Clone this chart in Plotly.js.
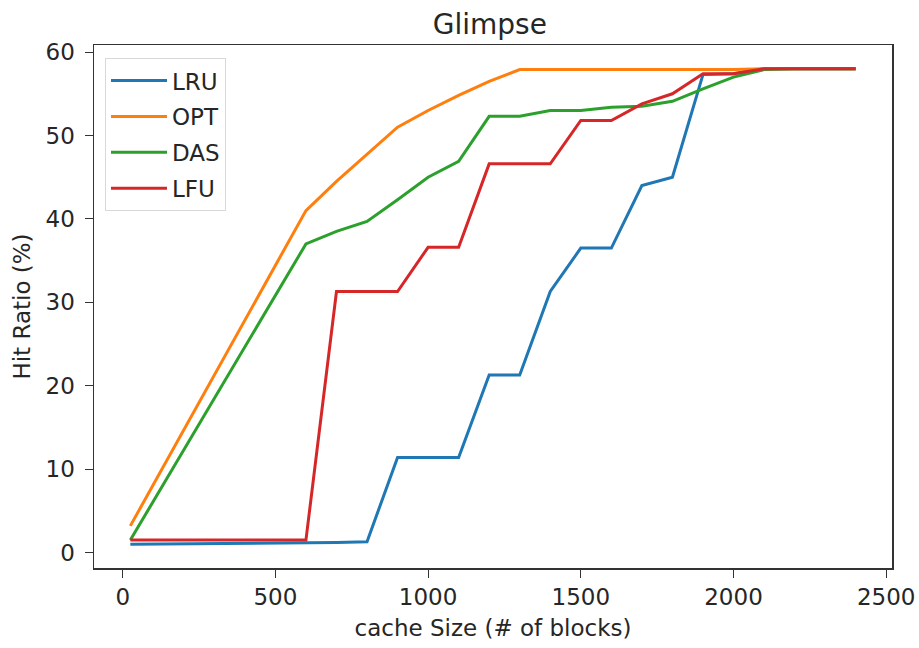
<!DOCTYPE html>
<html>
<head>
<meta charset="utf-8">
<script src="https://cdn.plot.ly/plotly-3.0.1.min.js"></script>
<style>html,body{margin:0;padding:0;background:#fff;}#chart{width:919px;height:648px;}</style>
</head>
<body>
<div id="chart"></div>
<script>
const cacheSize = [25, 600, 700, 800, 900, 1000, 1100, 1200, 1300, 1400, 1500, 1600, 1700, 1800, 1900, 2000, 2100, 2200, 2300, 2400];
const lru = [1.0, 1.1, 1.2, 1.3, 11.4, 11.4, 11.4, 21.3, 21.3, 31.3, 36.5, 36.5, 44.0, 45.0, 57.3, 57.4, 58.0, 58.0, 58.0, 58.0];
const opt = [3.2, 41.0, 44.5, 47.8, 51.0, 53.0, 54.8, 56.5, 57.9, 57.9, 57.9, 57.9, 57.9, 57.9, 57.9, 57.9, 58.0, 58.0, 58.0, 58.0];
const das = [1.5, 37.0, 38.5, 39.7, 42.3, 45.0, 46.9, 52.3, 52.3, 53.0, 53.0, 53.4, 53.5, 54.1, 55.6, 57.0, 57.9, 58.0, 58.0, 58.0];
const lfu = [1.5, 1.5, 31.3, 31.3, 31.3, 36.6, 36.6, 46.6, 46.6, 46.6, 51.8, 51.8, 53.8, 55.0, 57.4, 57.4, 58.0, 58.0, 58.0, 58.0];
const seriesNames = ['LRU', 'OPT', 'DAS', 'LFU'];
const seriesData = [lru, opt, das, lfu];
const colors = ['#1f77b4', '#ff7f0e', '#2ca02c', '#d62728'];

const FONT = 'DejaVu Sans, sans-serif';
const traces = seriesNames.map((n, i) => ({
  x: cacheSize, y: seriesData[i], name: n, type: 'scatter', mode: 'lines',
  legendgroup: n,
  line: {color: colors[i], width: 3}
}));

const layout = {
  width: 919, height: 648,
  margin: {l: 94, r: 27, t: 45, b: 80},
  paper_bgcolor: '#fff', plot_bgcolor: '#fff',
  font: {family: FONT, size: 23, color: '#262626'},
  title: {text: 'Glimpse', x: 0.533, xanchor: 'center', y: 0.962, yanchor: 'middle', font: {size: 28, family: FONT, color: '#262626'}},
  xaxis: {
    range: [-94, 2519], tickvals: [0, 500, 1000, 1500, 2000, 2500],
    showgrid: false, zeroline: false, showline: true, mirror: true, linecolor: '#333', linewidth: 1.5,
    ticks: 'outside', ticklen: 8, tickcolor: '#333', tickfont: {size: 23},
    title: {text: 'cache Size (# of blocks)', font: {size: 23, family: FONT}, standoff: 11}
  },
  yaxis: {
    range: [-1.85, 60.85], tickvals: [0, 10, 20, 30, 40, 50, 60],
    showgrid: false, zeroline: false, showline: true, mirror: true, linecolor: '#333', linewidth: 1.5,
    ticks: 'outside', ticklen: 8, tickcolor: '#333', tickfont: {size: 23}, ticklabelstandoff: 5,
    title: {text: 'Hit Ratio (%)', font: {size: 23, family: FONT}, standoff: 8}
  },
  legend: {
    x: 0.0138, y: 0.975, xanchor: 'left', yanchor: 'top',
    bgcolor: 'rgba(255,255,255,0.8)', bordercolor: '#d9d9d9', borderwidth: 1,
    font: {size: 23, family: FONT, color: '#262626'},
    traceorder: 'grouped', tracegroupgap: 3, itemwidth: 56, entrywidth: 135
  },
  showlegend: true
};

Plotly.newPlot('chart', traces, layout, {staticPlot: true});
</script>
</body>
</html>
